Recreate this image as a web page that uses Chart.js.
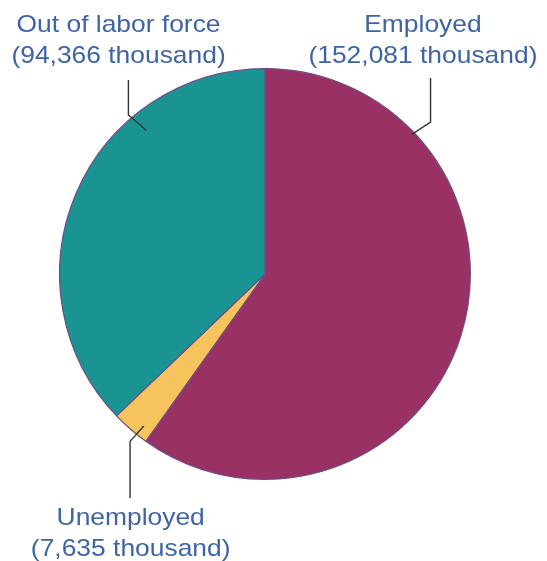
<!DOCTYPE html>
<html>
<head>
<meta charset="utf-8">
<script src="https://cdn.jsdelivr.net/npm/chart.js@4.4.0/dist/chart.umd.min.js"></script>
<style>
  html, body { margin: 0; padding: 0; background: #fff; }
  #wrap { width: 547px; height: 561px; }
</style>
</head>
<body>
<div id="wrap"><canvas id="pie"></canvas></div>
<script>
// labor force breakdown, thousands
const categories = ['Employed', 'Unemployed', 'Out of labor force'];
const values = [152081, 7635, 94366];
const colors = ['#9a3165', '#f7c35c', '#1a9393'];

const fmt = v => v.toLocaleString('en-US') + ' thousand';

// callout placement, relative to pie centre in units of radius
// text: [x, baseline line 1, baseline line 2]
const callouts = [
  { text: [0.769, -1.178, -1.029], line: [[0.806, -0.954], [0.806, -0.740], [0.715, -0.68]] },
  { text: [-0.654, 1.221, 1.372], line: [[-0.657, 1.09], [-0.657, 0.815], [-0.59, 0.74]] },
  { text: [-0.713, -1.178, -1.029], line: [[-0.665, -0.944], [-0.665, -0.774], [-0.578, -0.70]] }
];

const calloutPlugin = {
  id: 'callouts',
  afterDatasetsDraw(chart) {
    const c = chart.ctx;
    const arc = chart.getDatasetMeta(0).data[0];
    const cx = arc.x, cy = arc.y, r = arc.outerRadius;
    c.save();
    c.strokeStyle = '#333';
    c.lineWidth = 1.4;
    callouts.forEach(co => {
      c.beginPath();
      co.line.forEach((p, i) => {
        const x = cx + p[0] * r, y = cy + p[1] * r;
        if (i === 0) c.moveTo(x, y); else c.lineTo(x, y);
      });
      c.stroke();
    });
    c.fillStyle = '#3f64a6';
    c.font = '24px "Liberation Sans", Arial, sans-serif';
    c.textAlign = 'center';
    c.textBaseline = 'alphabetic';
    const put = (s, x, y) => {
      c.save();
      c.translate(x, y);
      c.scale(1.1, 1);   // source lettering is a bit wide
      c.fillText(s, 0, 0);
      c.restore();
    };
    callouts.forEach((co, i) => {
      const x = cx + co.text[0] * r;
      put(categories[i], x, cy + co.text[1] * r);
      put('(' + fmt(values[i]) + ')', x, cy + co.text[2] * r);
    });
    c.restore();
  }
};

new Chart(document.getElementById('pie'), {
  type: 'pie',
  data: {
    labels: categories,
    datasets: [{
      data: values,
      backgroundColor: colors,
      borderColor: '#6e4d84',
      borderWidth: 1.2
    }]
  },
  options: {
    responsive: true,
    maintainAspectRatio: false,
    animation: false,
    layout: { padding: { top: 68, bottom: 81, left: 59, right: 76 } },
    plugins: {
      legend: { display: false },
      tooltip: { enabled: false }
    }
  },
  plugins: [calloutPlugin]
});
</script>
</body>
</html>
